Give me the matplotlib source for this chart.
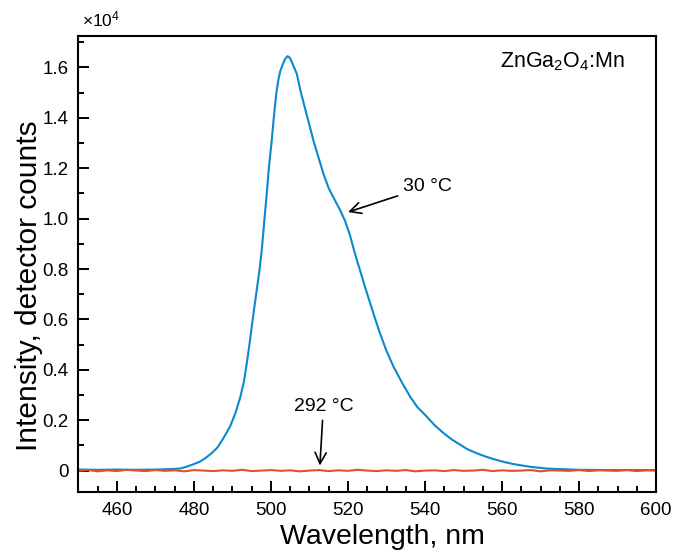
import matplotlib
matplotlib.use('Agg')
import matplotlib.pyplot as plt
from matplotlib.ticker import MultipleLocator, FuncFormatter

plt.rcParams['font.family'] = ['Liberation Sans', 'DejaVu Sans']
plt.rcParams['mathtext.fontset'] = 'custom'
plt.rcParams['mathtext.rm'] = 'Liberation Sans'
plt.rcParams['mathtext.it'] = 'Liberation Sans:italic'

# emission spectrum at 30 C (wavelength nm, detector counts)
wl_30 = [450, 455, 460, 465, 470, 474, 476.4, 478, 480, 481.6, 483, 484.5,
         486, 486.8, 488, 489.4, 490.8, 492.0, 493, 493.7, 494.4, 495.0,
         495.6, 496.3, 497.0, 497.6, 498.2, 498.9, 499.5, 500.2, 500.6, 501.0,
         501.4, 501.9, 502.4, 503.0, 503.6, 504.3, 504.9, 505.4, 506.0, 506.7,
         507.7, 508.8, 510, 511, 512.3, 513.6, 515, 516.6, 518, 519.2,
         520.5, 521.5, 522.3, 523.1, 524.3, 525.5, 527, 528.3, 530, 531.8,
         534, 536.1, 538, 540.4, 542.5, 544.8, 547, 549.1, 551, 553.4,
         555.5, 557.7, 560.3, 562.9, 567.3, 571.6, 580, 590, 600]
counts_30 = [40, 30, 40, 30, 40, 60, 80, 150, 260, 360, 500, 680,
             900, 1080, 1380, 1760, 2300, 2900, 3550, 4250, 5000, 5710,
             6400, 7170, 7950, 8750, 9800, 11000, 12100, 13110, 13800, 14430,
             15000, 15490, 15850, 16100, 16320, 16450, 16380, 16220, 16000, 15750,
             15050, 14400, 13700, 13110, 12450, 11790, 11200, 10730, 10320, 9920,
             9350, 8780, 8360, 7960, 7350, 6770, 6050, 5450, 4750, 4130,
             3500, 2940, 2520, 2150, 1800, 1490, 1230, 1030, 850, 690,
             570, 460, 350, 260, 150, 80, 30, 20, 20]

# emission at 292 C, flat and noisy near zero
wl_292 = [450, 452.5, 455, 457.5, 460, 462.5, 465, 467.5, 470, 472.5, 475, 477.5,
          480, 482.5, 485, 487.5, 490, 492.5, 495, 497.5, 500, 502.5, 505, 507.5,
          510, 512.5, 515, 517.5, 520, 522.5, 525, 527.5, 530, 532.5, 535, 537.5,
          540, 542.5, 545, 547.5, 550, 552.5, 555, 557.5, 560, 562.5, 565, 567.5,
          570, 572.5, 575, 577.5, 580, 582.5, 585, 587.5, 590, 592.5, 595, 597.5, 600]
counts_292 = [-10, 20, -30, 10, -20, 30, 0, -20, 20, -10, 10, -30,
              20, 0, -20, 10, -10, 30, -20, 0, 20, -10, 10, -30,
              0, 20, -20, 10, -10, 30, 0, -20, 10, -10, 20, -30,
              0, 10, -20, 20, -10, 0, 30, -20, 10, -10, 0, 20,
              -30, 10, 0, -10, 20, -20, 10, 0, -10, 20, -20, 10, 0]

fig = plt.figure(figsize=(6.86, 5.57), dpi=100)
ax = fig.add_axes([0.1144, 0.1167, 0.8419, 0.8187])

ax.plot(wl_30, counts_30, color='#0a88d0', lw=1.5)
ax.plot(wl_292, counts_292, color='#e2502a', lw=1.5)

ax.set_xlim(450, 600)
ax.set_ylim(-850, 17250)

ax.xaxis.set_major_locator(MultipleLocator(20))
ax.xaxis.set_minor_locator(MultipleLocator(5))
ax.yaxis.set_major_locator(MultipleLocator(2000))
ax.yaxis.set_minor_locator(MultipleLocator(1000))
ax.yaxis.set_major_formatter(FuncFormatter(
    lambda v, p: '0' if abs(v) < 1e-6 else '%.1f' % (v / 1e4)))

ax.tick_params(which='both', direction='in', top=False, right=False,
               labelsize=13.5, width=1.4)
ax.tick_params(which='major', length=8, pad=7)
ax.tick_params(which='minor', length=4.5)
for s in ax.spines.values():
    s.set_linewidth(1.5)

ax.set_xlabel('Wavelength, nm', fontsize=20.5)
ax.set_ylabel('Intensity, detector counts', fontsize=21.5)
ax.xaxis.set_label_coords(0.527, -0.07)
ax.yaxis.set_label_coords(-0.062, 0.452)

fig.text(0.119, 0.948, r'$\times$10$^4$', fontsize=12.5, ha='left', va='bottom')

ax.text(575.8, 16240, r'ZnGa$_2$O$_4$:Mn', fontsize=15.5, ha='center', va='center')

ax.annotate('30 °C', xy=(520.0, 10260), xytext=(534.3, 11290),
            fontsize=14, ha='left', va='center',
            arrowprops=dict(arrowstyle='->', lw=1.2, color='k',
                            mutation_scale=20, shrinkA=2, shrinkB=0))
ax.annotate('292 °C', xy=(512.7, 200), xytext=(513.6, 2550),
            fontsize=14, ha='center', va='center',
            arrowprops=dict(arrowstyle='->', lw=1.2, color='k',
                            mutation_scale=20, shrinkA=2, shrinkB=0))

fig.savefig('out.png', dpi=100)
